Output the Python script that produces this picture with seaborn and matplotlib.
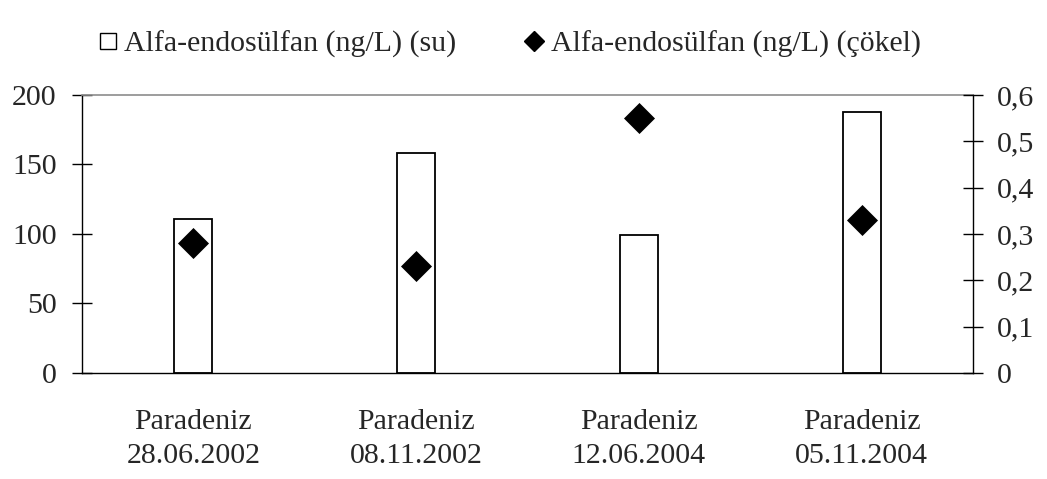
import matplotlib
matplotlib.use("Agg")
import matplotlib.pyplot as plt
from matplotlib.lines import Line2D
import seaborn as sns
import pandas as pd

categories = ["Paradeniz\n28.06.2002", "Paradeniz\n08.11.2002",
              "Paradeniz\n12.06.2004", "Paradeniz\n05.11.2004"]
su_values = [111, 158.5, 99.5, 188]
cokel_values = [0.28, 0.23, 0.55, 0.33]
left_ticks = [0, 50, 100, 150, 200]
left_labels = ["0", "50", "100", "150", "200"]
right_ticks = [0, 0.1, 0.2, 0.3, 0.4, 0.5, 0.6]
right_labels = ["0", "0,1", "0,2", "0,3", "0,4", "0,5", "0,6"]
legend_labels = ["Alfa-endosülfan (ng/L) (su)", "Alfa-endosülfan (ng/L) (çökel)"]

sns.set_theme(style="white")
plt.rcParams["font.family"] = ["Liberation Serif", "DejaVu Serif"]
FS = 21.5

df = pd.DataFrame({"cat": categories, "su": su_values, "cokel": cokel_values})

fig = plt.figure(figsize=(10.47, 4.79), dpi=100)
ax = fig.add_axes([0.0783, 0.2213, 0.8510, 0.5804])

sns.barplot(data=df, x="cat", y="su", ax=ax, color="white", edgecolor="black",
            linewidth=1.3, width=0.17, saturation=1)
ax.set_xlim(-0.5, 3.5)
ax.set_ylim(0, 200)
ax.set_yticks(left_ticks)
ax.set_yticklabels(left_labels, fontsize=FS)
ax.set_xlabel("")
ax.set_ylabel("")
ax.set_xticks(range(len(categories)))
ax.set_xticklabels(categories, fontsize=FS, linespacing=1.4)
ax.tick_params(axis="x", which="major", length=0, pad=26)
ax.set_xticks([-0.5, 0.5, 1.5, 2.5, 3.5], minor=True)
ax.tick_params(axis="x", which="minor", length=7, width=1, color="black", direction="out")
ax.tick_params(axis="y", which="major", length=14.4, width=1, color="black",
               direction="inout", pad=11, left=True)
for s in ["left", "bottom"]:
    ax.spines[s].set_color("black")
    ax.spines[s].set_linewidth(1)
ax.spines["top"].set_color("#8c8c8c")
ax.spines["top"].set_linewidth(1.2)
ax.spines["right"].set_visible(False)

ax2 = ax.twinx()
sns.scatterplot(data=df, x="cat", y="cokel", ax=ax2, marker="D", s=250,
                color="black", edgecolor="black", linewidth=0, zorder=5, legend=False)
ax2.set_xlim(-0.5, 3.5)
ax2.set_ylim(0, 0.6)
ax2.set_yticks(right_ticks)
ax2.set_yticklabels(right_labels, fontsize=FS)
ax2.set_ylabel("")
ax2.set_xlabel("")
ax2.tick_params(axis="y", which="major", length=14.4, width=1, color="black",
                direction="inout", pad=10, right=True)
for s in ["left", "top", "bottom"]:
    ax2.spines[s].set_visible(False)
ax2.spines["right"].set_color("black")
ax2.spines["right"].set_linewidth(1)

handles = [
    Line2D([], [], linestyle="none", marker="s", markersize=12,
           markerfacecolor="white", markeredgecolor="black", markeredgewidth=1),
    Line2D([], [], linestyle="none", marker="D", markersize=10,
           markerfacecolor="black", markeredgecolor="black"),
]
fig.legend(handles, legend_labels, loc="upper center", bbox_to_anchor=(0.487, 0.993),
           ncol=2, frameon=False, fontsize=FS, handlelength=0.6, handletextpad=0.25,
           columnspacing=2.3)

fig.savefig("out.png", dpi=100)
